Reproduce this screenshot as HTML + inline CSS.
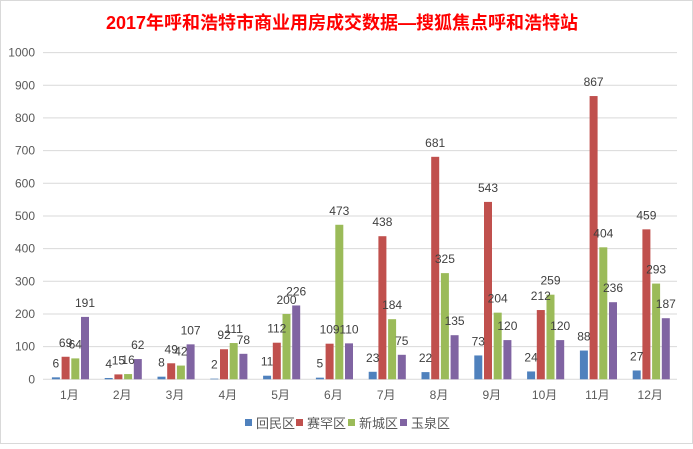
<!DOCTYPE html>
<html><head><meta charset="utf-8"><style>
html,body{margin:0;padding:0;background:#fff}
svg text{font-family:"Liberation Sans","Noto Sans CJK SC",sans-serif}
</style></head><body>
<svg width="693" height="444" viewBox="0 0 693 444" xmlns="http://www.w3.org/2000/svg">
<rect x="0.5" y="0.5" width="692" height="443" fill="#fff" stroke="#d9d9d9"/>
<text x="342" y="29" text-anchor="middle" font-size="18" font-weight="bold" fill="#ff0000">2017年呼和浩特市商业用房成交数据—搜狐焦点呼和浩特站</text>
<g stroke="#d9d9d9" stroke-width="1">
<line x1="43" x2="677" y1="52.6" y2="52.6"/><line x1="43" x2="677" y1="85.3" y2="85.3"/><line x1="43" x2="677" y1="117.9" y2="117.9"/><line x1="43" x2="677" y1="150.6" y2="150.6"/><line x1="43" x2="677" y1="183.3" y2="183.3"/><line x1="43" x2="677" y1="216" y2="216"/><line x1="43" x2="677" y1="248.6" y2="248.6"/><line x1="43" x2="677" y1="281.3" y2="281.3"/><line x1="43" x2="677" y1="314" y2="314"/><line x1="43" x2="677" y1="346.6" y2="346.6"/><line x1="43" x2="677" y1="379.3" y2="379.3"/>
</g>
<g font-size="12" fill="#595959" text-anchor="end">
<text x="35" y="56.6">1000</text><text x="35" y="89.3">900</text><text x="35" y="121.9">800</text><text x="35" y="154.6">700</text><text x="35" y="187.3">600</text><text x="35" y="220">500</text><text x="35" y="252.6">400</text><text x="35" y="285.3">300</text><text x="35" y="318">200</text><text x="35" y="350.6">100</text><text x="35" y="383.3">0</text>
</g>
<g font-size="12" fill="#595959" text-anchor="middle">
<text x="69.4" y="399">1月</text><text x="122.2" y="399">2月</text><text x="175" y="399">3月</text><text x="227.8" y="399">4月</text><text x="280.6" y="399">5月</text><text x="333.4" y="399">6月</text><text x="386.2" y="399">7月</text><text x="439" y="399">8月</text><text x="491.8" y="399">9月</text><text x="544.6" y="399">10月</text><text x="597.4" y="399">11月</text><text x="650.2" y="399">12月</text>
</g>
<g transform="translate(0,379.3) scale(1,-0.3267)">
<g fill="#4f81bd">
<rect x="51.9" y="0" width="8" height="6"/><rect x="104.7" y="0" width="8" height="4"/><rect x="157.5" y="0" width="8" height="8"/><rect x="210.3" y="0" width="8" height="2"/><rect x="263.1" y="0" width="8" height="11"/><rect x="315.9" y="0" width="8" height="5"/><rect x="368.7" y="0" width="8" height="23"/><rect x="421.5" y="0" width="8" height="22"/><rect x="474.3" y="0" width="8" height="73"/><rect x="527.1" y="0" width="8" height="24"/><rect x="579.9" y="0" width="8" height="88"/><rect x="632.7" y="0" width="8" height="27"/>
</g>
<g fill="#c0504d">
<rect x="61.6" y="0" width="8" height="69"/><rect x="114.4" y="0" width="8" height="15"/><rect x="167.2" y="0" width="8" height="49"/><rect x="220" y="0" width="8" height="92"/><rect x="272.8" y="0" width="8" height="112"/><rect x="325.6" y="0" width="8" height="109"/><rect x="378.4" y="0" width="8" height="438"/><rect x="431.2" y="0" width="8" height="681"/><rect x="484" y="0" width="8" height="543"/><rect x="536.8" y="0" width="8" height="212"/><rect x="589.6" y="0" width="8" height="867"/><rect x="642.4" y="0" width="8" height="459"/>
</g>
<g fill="#9bbb59">
<rect x="71.3" y="0" width="8" height="64"/><rect x="124.1" y="0" width="8" height="16"/><rect x="176.9" y="0" width="8" height="42"/><rect x="229.7" y="0" width="8" height="111"/><rect x="282.5" y="0" width="8" height="200"/><rect x="335.3" y="0" width="8" height="473"/><rect x="388.1" y="0" width="8" height="184"/><rect x="440.9" y="0" width="8" height="325"/><rect x="493.7" y="0" width="8" height="204"/><rect x="546.5" y="0" width="8" height="259"/><rect x="599.3" y="0" width="8" height="404"/><rect x="652.1" y="0" width="8" height="293"/>
</g>
<g fill="#8064a2">
<rect x="81" y="0" width="8" height="191"/><rect x="133.8" y="0" width="8" height="62"/><rect x="186.6" y="0" width="8" height="107"/><rect x="239.4" y="0" width="8" height="78"/><rect x="292.2" y="0" width="8" height="226"/><rect x="345" y="0" width="8" height="110"/><rect x="397.8" y="0" width="8" height="75"/><rect x="450.6" y="0" width="8" height="135"/><rect x="503.4" y="0" width="8" height="120"/><rect x="556.2" y="0" width="8" height="120"/><rect x="609" y="0" width="8" height="236"/><rect x="661.8" y="0" width="8" height="187"/>
</g>
</g>
<g font-size="12" fill="#404040" text-anchor="middle">
<text x="55.9" y="367.3">6</text><text x="108.7" y="368">4</text><text x="161.5" y="366.7">8</text><text x="214.3" y="368.6">2</text><text x="267.1" y="365.7">11</text><text x="319.9" y="367.7">5</text><text x="372.7" y="361.8">23</text><text x="425.5" y="362.1">22</text><text x="478.3" y="345.5">73</text><text x="531.1" y="361.5">24</text><text x="583.9" y="340.6">88</text><text x="636.7" y="360.5">27</text>
<text x="65.6" y="346.8">69</text><text x="118.4" y="364.4">15</text><text x="171.2" y="353.3">49</text><text x="224" y="339.2">92</text><text x="276.8" y="332.7">112</text><text x="329.6" y="333.7">109</text><text x="382.4" y="226.2">438</text><text x="435.2" y="146.8">681</text><text x="488" y="191.9">543</text><text x="540.8" y="300">212</text><text x="593.6" y="86">867</text><text x="646.4" y="219.3">459</text>
<text x="75.3" y="348.4">64</text><text x="128.1" y="364.1">16</text><text x="180.9" y="355.6">42</text><text x="233.7" y="333">111</text><text x="286.5" y="304">200</text><text x="339.3" y="214.8">473</text><text x="392.1" y="309.2">184</text><text x="444.9" y="263.1">325</text><text x="497.7" y="302.7">204</text><text x="550.5" y="284.7">259</text><text x="603.3" y="237.3">404</text><text x="656.1" y="273.6">293</text>
<text x="85" y="306.9">191</text><text x="137.8" y="349">62</text><text x="190.6" y="334.3">107</text><text x="243.4" y="343.8">78</text><text x="296.2" y="295.5">226</text><text x="349" y="333.4">110</text><text x="401.8" y="344.8">75</text><text x="454.6" y="325.2">135</text><text x="507.4" y="330.1">120</text><text x="560.2" y="330.1">120</text><text x="613" y="292.2">236</text><text x="665.8" y="308.2">187</text>
</g>
<g font-size="13" fill="#595959">
<rect x="245" y="419" width="7" height="7" fill="#4f81bd"/><text x="256" y="428">回民区</text>
<rect x="296" y="419" width="7" height="7" fill="#c0504d"/><text x="307" y="428">赛罕区</text>
<rect x="348" y="419" width="7" height="7" fill="#9bbb59"/><text x="359" y="428">新城区</text>
<rect x="400" y="419" width="7" height="7" fill="#8064a2"/><text x="411" y="428">玉泉区</text>
</g>
</svg>
</body></html>
